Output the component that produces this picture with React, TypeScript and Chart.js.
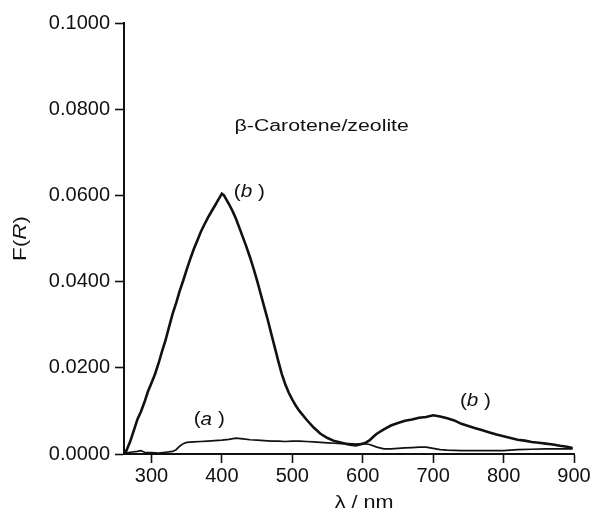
import React, { useEffect, useRef } from "react";
import { Chart, registerables } from "chart.js";

Chart.register(...registerables);

const FONT = "'Liberation Sans', Arial, Helvetica, sans-serif";

// Curve (b): wavelength (nm) and F(R)
const curveBX = [262, 265, 270, 275, 280, 285, 290, 295, 300, 305, 310, 315, 320, 325, 330, 335, 340, 345, 350, 355, 360, 365, 370, 375, 380, 385, 390, 395, 400, 403, 405, 410, 415, 420, 425, 430, 435, 440, 445, 450, 455, 460, 465, 470, 475, 480, 485, 490, 495, 500, 505, 510, 520, 530, 540, 550, 560, 570, 580, 590, 600, 605, 610, 615, 620, 630, 640, 650, 660, 670, 680, 690, 700, 710, 720, 730, 740, 750, 760, 770, 780, 790, 800, 810, 820, 830, 840, 850, 860, 870, 880, 890, 898];
const curveBY = [0.0000, 0.0010, 0.0030, 0.0055, 0.0080, 0.0098, 0.0120, 0.0145, 0.0165, 0.0185, 0.0210, 0.0238, 0.0264, 0.0295, 0.0325, 0.0350, 0.0378, 0.0402, 0.0428, 0.0452, 0.0475, 0.0495, 0.0515, 0.0532, 0.0548, 0.0562, 0.0576, 0.0590, 0.0604, 0.0600, 0.0594, 0.0580, 0.0564, 0.0546, 0.0524, 0.0502, 0.0480, 0.0456, 0.0430, 0.0402, 0.0372, 0.0342, 0.0312, 0.0280, 0.0248, 0.0216, 0.0186, 0.0162, 0.0142, 0.0126, 0.0112, 0.0100, 0.0080, 0.0062, 0.0047, 0.0037, 0.0030, 0.0026, 0.0022, 0.0020, 0.0024, 0.0027, 0.0032, 0.0040, 0.0047, 0.0057, 0.0066, 0.0072, 0.0077, 0.0080, 0.0084, 0.0086, 0.0090, 0.0087, 0.0083, 0.0078, 0.0070, 0.0065, 0.0060, 0.0055, 0.0050, 0.0045, 0.0041, 0.0037, 0.0033, 0.0031, 0.0028, 0.0026, 0.0024, 0.0022, 0.0019, 0.0017, 0.0014];

// Curve (a): wavelength (nm) and F(R)
const curveAX = [262, 270, 280, 285, 290, 300, 310, 320, 330, 335, 340, 345, 350, 360, 370, 380, 390, 400, 410, 420, 430, 440, 450, 460, 470, 480, 490, 500, 510, 520, 530, 540, 550, 560, 570, 580, 590, 600, 610, 620, 630, 640, 650, 660, 670, 680, 690, 700, 710, 720, 740, 760, 780, 800, 820, 840, 860, 880, 898];
const curveAY = [0.0002, 0.0004, 0.0006, 0.0008, 0.0004, 0.0003, 0.0002, 0.0004, 0.0006, 0.0010, 0.0018, 0.0024, 0.0027, 0.0028, 0.0029, 0.0030, 0.0031, 0.0032, 0.0034, 0.0037, 0.0035, 0.0033, 0.0032, 0.0031, 0.0030, 0.0030, 0.0029, 0.0030, 0.0030, 0.0029, 0.0028, 0.0027, 0.0026, 0.0025, 0.0024, 0.0024, 0.0023, 0.0024, 0.0022, 0.0016, 0.0012, 0.0012, 0.0013, 0.0014, 0.0015, 0.0016, 0.0016, 0.0013, 0.0010, 0.0009, 0.0008, 0.0008, 0.0008, 0.0008, 0.0010, 0.0011, 0.0012, 0.0012, 0.0012];

const xTicks = [300, 400, 500, 600, 700, 800, 900];
const yTicks = [0, 0.02, 0.04, 0.06, 0.08, 0.1];
const xMin = 261;
const xMax = 900;
const yMin = 0;
const yMax = 0.1;

const xTitle = "λ / nm";
const sampleLabel = "β-Carotene/zeolite";

type Part = [string, boolean];

function drawRich(ctx: CanvasRenderingContext2D, parts: Part[], x: number, y: number, size: number, sx: number, align: "left" | "center", rot = 0) {
  ctx.save();
  ctx.translate(x, y);
  if (rot) ctx.rotate(rot);
  ctx.scale(sx, 1);
  const widths = parts.map(([t, it]) => {
    ctx.font = `${it ? "italic " : ""}${size}px ${FONT}`;
    return ctx.measureText(t).width;
  });
  const total = widths.reduce((a, b) => a + b, 0);
  let cx = align === "center" ? -total / 2 : 0;
  ctx.textBaseline = "middle";
  ctx.textAlign = "left";
  ctx.fillStyle = "#111";
  parts.forEach(([t, it], i) => {
    ctx.font = `${it ? "italic " : ""}${size}px ${FONT}`;
    ctx.fillText(t, cx, 0);
    cx += widths[i];
  });
  ctx.restore();
}

const textPlugin = {
  id: "textPlugin",
  afterDraw(chart: any) {
    const ctx = chart.ctx as CanvasRenderingContext2D;
    const xs = chart.scales.x;
    const ys = chart.scales.y;
    drawRich(ctx, [[sampleLabel, false]], xs.getPixelForValue(418), ys.getPixelForValue(0.0759), 16, 1.33, "left");
    drawRich(ctx, [["(", false], ["b", true], [" )", false]], xs.getPixelForValue(417), ys.getPixelForValue(0.0608), 18, 1.15, "left");
    drawRich(ctx, [["(", false], ["a", true], [" )", false]], xs.getPixelForValue(360), ys.getPixelForValue(0.0080), 18, 1.15, "left");
    drawRich(ctx, [["(", false], ["b", true], [" )", false]], xs.getPixelForValue(738), ys.getPixelForValue(0.0122), 18, 1.15, "left");
    drawRich(ctx, [[xTitle, false]], xs.getPixelForValue(602), chart.height - 8, 18, 1.2, "center");
    drawRich(ctx, [["F(", false], ["R", true], [")", false]], 21, (chart.chartArea.top + chart.chartArea.bottom) / 2, 18, 1.25, "center", -Math.PI / 2);
  },
};

export default function App() {
  const ref = useRef<HTMLCanvasElement | null>(null);
  useEffect(() => {
    if (!ref.current) return;
    const chart = new Chart(ref.current, {
      type: "line",
      data: {
        datasets: [
          {
            label: "(b)",
            data: curveBX.map((x, i) => ({ x, y: curveBY[i] })),
            borderColor: "#111",
            borderWidth: 2.6,
            pointRadius: 0,
            tension: 0,
          },
          {
            label: "(a)",
            data: curveAX.map((x, i) => ({ x, y: curveAY[i] })),
            borderColor: "#111",
            borderWidth: 1.7,
            pointRadius: 0,
            tension: 0,
          },
        ],
      },
      options: {
        responsive: false,
        animation: false,
        events: [],
        layout: { padding: { top: 23, right: 20, left: 0, bottom: 0 } },
        plugins: { legend: { display: false }, tooltip: { enabled: false }, title: { display: false } },
        scales: {
          x: {
            type: "linear",
            min: xMin,
            max: xMax,
            afterBuildTicks: (s: any) => {
              s.ticks = xTicks.map((v) => ({ value: v }));
            },
            afterFit: (s: any) => {
              s.height = 57;
            },
            ticks: {
              color: "#111",
              font: { family: FONT, size: 20 },
              padding: 1,
              maxRotation: 0,
              autoSkip: false,
              callback: (v: any) => String(v),
            },
            grid: { drawOnChartArea: false, drawTicks: true, tickLength: 9, tickColor: "#111", tickWidth: 1.6 },
            border: { display: true, color: "#111", width: 2 },
          },
          y: {
            type: "linear",
            min: yMin,
            max: yMax,
            afterBuildTicks: (s: any) => {
              s.ticks = yTicks.map((v) => ({ value: v }));
            },
            afterFit: (s: any) => {
              s.width = 124;
            },
            ticks: {
              color: "#111",
              font: { family: FONT, size: 20 },
              padding: 5,
              autoSkip: false,
              callback: (v: any) => Number(v).toFixed(4),
            },
            grid: { drawOnChartArea: false, drawTicks: true, tickLength: 9, tickColor: "#111", tickWidth: 1.6 },
            border: { display: true, color: "#111", width: 2 },
          },
        },
      },
      plugins: [textPlugin],
    });
    return () => chart.destroy();
  }, []);
  return (
    <div style={{ position: "absolute", left: 0, top: 0, width: 594, height: 511, background: "#fff" }}>
      <canvas ref={ref} width={594} height={511} style={{ display: "block" }} />
    </div>
  );
}
